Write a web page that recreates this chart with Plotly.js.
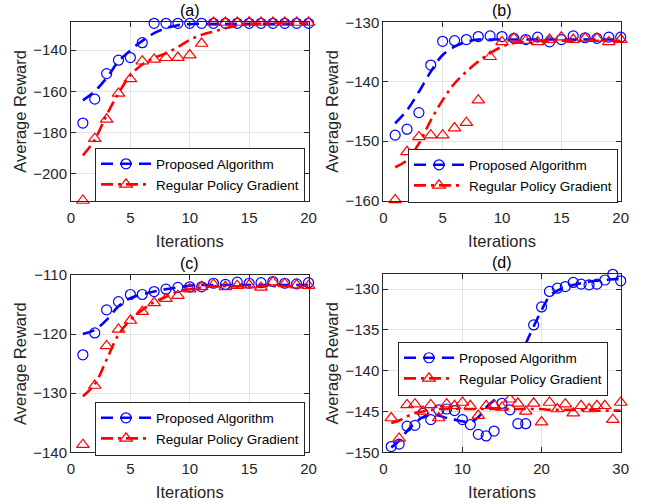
<!DOCTYPE html>
<html>
<head>
<meta charset="utf-8">
<script src="https://cdn.plot.ly/plotly-3.0.1.min.js"></script>
<style>html,body{margin:0;padding:0;background:#fff;}#chart{width:646px;height:504px;}</style>
</head>
<body>
<div id="chart"></div>
<script>
// ---------- data ----------
const iters20 = [1,2,3,4,5,6,7,8,9,10,11,12,13,14,15,16,17,18,19,20];
const iters30 = [1,2,3,4,5,6,7,8,9,10,11,12,13,14,15,16,17,18,19,20,21,22,23,24,25,26,27,28,29,30];

const seriesNames = ["Proposed Algorithm", "Regular Policy Gradient"];
const panelTitles = ["(a)", "(b)", "(c)", "(d)"];
const xTitle = "Iterations";
const yTitle = "Average Reward";

// (a)
const aProposed    = [-175.4,-163.8,-151.4,-144.9,-143.6,-136.4,-127.0,-127.0,-127.0,-127.0,-127.0,-127.0,-127.0,-127.0,-127.0,-127.0,-127.0,-127.0,-127.0,-127.0];
const aRegular     = [-213.0,-183.0,-173.6,-161.0,-154.0,-145.4,-144.5,-143.7,-143.6,-142.4,-136.8,-126.6,-126.6,-126.6,-126.5,-126.6,-126.6,-126.6,-126.6,-126.6];
const aProposedFit = [-164.4,-160.0,-153.5,-145.5,-140.1,-135.5,-131.8,-129.4,-127.9,-127.4,-127.2,-127.2,-127.2,-127.2,-127.2,-127.2,-127.2,-127.2,-127.2,-127.2];
const aRegularFit  = [-191.1,-183.5,-171.5,-161.0,-152.2,-147.0,-143.8,-141.5,-138.5,-135.0,-132.6,-131.0,-129.4,-128.2,-127.4,-127.0,-126.8,-126.8,-126.8,-126.8];

// (b)
const bProposed    = [-149.0,-148.0,-145.2,-137.2,-133.2,-133.1,-132.9,-132.4,-132.3,-132.4,-132.7,-132.9,-132.5,-133.3,-132.9,-132.3,-132.6,-132.7,-132.5,-132.5];
const bRegular     = [-159.9,-151.8,-149.3,-149.0,-149.0,-147.8,-146.9,-143.1,-135.8,-133.3,-132.7,-133.1,-133.3,-132.9,-132.5,-132.9,-132.7,-132.7,-133.3,-132.9];
const bProposedFit = [-147.0,-144.8,-141.7,-138.3,-135.5,-134.1,-133.3,-132.9,-132.9,-132.9,-132.9,-132.9,-132.9,-132.9,-132.9,-132.9,-132.9,-132.9,-132.9,-132.9];
const bRegularFit  = [-154.4,-153.2,-150.4,-146.5,-143.1,-140.3,-138.3,-136.6,-135.2,-134.1,-133.5,-133.3,-133.1,-133.1,-133.1,-133.1,-133.1,-133.1,-133.1,-133.1];

// (c)
const cProposed    = [-123.5,-119.8,-115.9,-114.5,-113.3,-113.3,-112.8,-112.4,-112.1,-112.0,-112.0,-111.4,-111.6,-111.2,-111.4,-111.3,-111.1,-111.4,-111.5,-111.3];
const cRegular     = [-138.7,-128.7,-122.0,-119.2,-117.7,-116.2,-114.7,-114.0,-113.5,-112.4,-112.0,-111.6,-112.0,-111.8,-111.7,-112.1,-111.2,-111.5,-111.7,-111.8];
const cProposedFit = [-120.0,-119.3,-117.6,-115.3,-113.9,-113.3,-112.8,-112.4,-112.1,-111.8,-111.7,-111.7,-111.7,-111.7,-111.7,-111.7,-111.7,-111.7,-111.7,-111.7];
const cRegularFit  = [-130.5,-128.5,-124.3,-120.1,-117.6,-115.9,-114.6,-113.7,-112.8,-112.4,-112.1,-111.9,-111.9,-111.9,-111.9,-111.9,-111.9,-111.9,-111.9,-111.9];

// (d)
const dProposed    = [-149.3,-149.0,-146.8,-146.7,-145.2,-146.0,-144.8,-144.7,-144.9,-146.0,-146.6,-147.8,-148.0,-147.4,-144.0,-144.8,-146.5,-146.5,-134.4,-132.2,-130.3,-129.9,-129.7,-129.2,-129.4,-129.5,-129.4,-128.9,-128.2,-129.0];
const dRegular     = [-145.8,-148.3,-144.2,-144.1,-145.0,-144.2,-145.8,-144.1,-144.3,-143.9,-144.3,-145.5,-144.3,-144.2,-144.5,-143.5,-144.0,-145.0,-144.0,-146.3,-143.9,-144.7,-144.1,-145.2,-144.3,-144.7,-144.3,-144.3,-146.0,-143.9];
const dProposedFit = [-149.4,-148.6,-147.4,-146.4,-145.7,-145.4,-145.5,-145.8,-146.0,-146.2,-146.3,-145.7,-144.5,-143.6,-142.3,-140.8,-138.8,-136.7,-134.6,-132.6,-130.9,-130.2,-129.8,-129.5,-129.3,-129.1,-129.0,-128.9,-128.8,-128.8];
const dRegularFit  = [-146.4,-146.1,-145.6,-145.2,-145.0,-144.8,-144.7,-144.7,-144.7,-144.7,-144.7,-144.7,-144.7,-144.7,-144.7,-144.7,-144.7,-144.7,-144.7,-144.7,-144.8,-144.8,-144.8,-144.8,-144.8,-144.8,-144.9,-144.9,-144.9,-144.9];

// ---------- styles ----------
const BLUE = "#0000ff", RED = "#ff0000";
const FONT = "Liberation Sans, Arial, Helvetica, sans-serif";
const W = 646, H = 504;

const panels = [
  {x: iters20, p: aProposed, r: aRegular, pf: aProposedFit, rf: aRegularFit, ax: "", xr: [0,20], xd: 5, yr: [-213,-126.5], yd: 20,
   dom: {l:71, r:308.5, t:22.3, b:200.5}, leg: {l:95, t:147.5}},
  {x: iters20, p: bProposed, r: bRegular, pf: bProposedFit, rf: bRegularFit, ax: "2", xr: [0,20], xd: 5, yr: [-160,-130], yd: 10,
   dom: {l:383.3, r:620.7, t:22.3, b:200.5}, leg: {l:408, t:148.5}},
  {x: iters20, p: cProposed, r: cRegular, pf: cProposedFit, rf: cRegularFit, ax: "3", xr: [0,20], xd: 5, yr: [-140,-110], yd: 10,
   dom: {l:71, r:308.5, t:275, b:452.3}, leg: {l:95, t:401.5}},
  {x: iters30, p: dProposed, r: dRegular, pf: dProposedFit, rf: dRegularFit, ax: "4", xr: [0,30], xd: 10, yr: [-150,-128.2], yd: 5,
   dom: {l:383.3, r:620.7, t:274.3, b:452.3}, leg: {l:398, t:341.5}}
];

const data = [];
const layout = {
  width: W, height: H,
  margin: {l:0, r:0, t:0, b:0},
  paper_bgcolor: "#fff", plot_bgcolor: "#fff",
  font: {family: FONT, size: 15, color: "#262626"},
  showlegend: true,
  annotations: []
};

panels.forEach((P, i) => {
  const xa = "x" + P.ax, ya = "y" + P.ax;
  const legName = "legend" + (i === 0 ? "" : (i + 1));
  const propLine = {color: BLUE, width: 2.6, dash: "12px,7px"};
  const regLine = {color: RED, width: 2.6, dash: "12px,5px,3px,5px"};
  const propMarker = {symbol: "circle-open", size: 10, color: BLUE, line: {color: BLUE, width: 1.2}};
  const regMarker = {symbol: "triangle-up-open", size: 11, color: RED, line: {color: RED, width: 1.2}};

  data.push({x: P.x, y: P.p, xaxis: xa, yaxis: ya, mode: "markers", marker: propMarker, showlegend: false, hoverinfo: "skip", cliponaxis: false});
  data.push({x: P.x, y: P.pf, xaxis: xa, yaxis: ya, mode: "lines", line: Object.assign({shape: "spline"}, propLine), showlegend: false, hoverinfo: "skip"});
  data.push({x: P.x, y: P.r, xaxis: xa, yaxis: ya, mode: "markers", marker: regMarker, showlegend: false, hoverinfo: "skip", cliponaxis: false});
  data.push({x: P.x, y: P.rf, xaxis: xa, yaxis: ya, mode: "lines", line: Object.assign({shape: "spline"}, regLine), showlegend: false, hoverinfo: "skip"});
  // legend entries (a single missing point: legend sample only)
  data.push({x: [null], y: [null], xaxis: xa, yaxis: ya, mode: "lines+markers", name: seriesNames[0], line: propLine, marker: propMarker, legend: legName});
  data.push({x: [null], y: [null], xaxis: xa, yaxis: ya, mode: "lines+markers", name: seriesNames[1], line: regLine, marker: regMarker, legend: legName});

  const axCommon = {
    showline: true, linecolor: "#262626", linewidth: 1, mirror: "allticks",
    ticks: "inside", ticklen: 5, tickwidth: 1, tickcolor: "#262626",
    showgrid: true, gridcolor: "#e3e3e3", gridwidth: 1, zeroline: false,
    tickfont: {family: FONT, size: 15, color: "#262626"}
  };
  layout["xaxis" + P.ax] = Object.assign({}, axCommon, {
    domain: [P.dom.l / W, P.dom.r / W], range: P.xr, dtick: P.xd, tick0: 0,
    ticklabelstandoff: 3,
    anchor: ya, title: {text: xTitle, font: {family: FONT, size: 16.5, color: "#262626"}, standoff: 10}
  });
  layout["yaxis" + P.ax] = Object.assign({}, axCommon, {
    domain: [1 - P.dom.b / H, 1 - P.dom.t / H], range: P.yr, dtick: P.yd, tick0: 0,
    anchor: xa, title: {text: yTitle, font: {family: FONT, size: 16.5, color: "#262626"}, standoff: 2}
  });
  layout[legName] = {
    x: P.leg.l / W, y: 1 - P.leg.t / H, xanchor: "left", yanchor: "top",
    xref: "paper", yref: "paper",
    bgcolor: "#ffffff", bordercolor: "#262626", borderwidth: 1,
    font: {family: FONT, size: 13.5, color: "#000"},
    itemwidth: 50, tracegroupgap: 0
  };
  layout.annotations.push({
    text: panelTitles[i], xref: xa + " domain", yref: ya + " domain", x: 0.5, y: 1,
    xanchor: "center", yanchor: "bottom", yshift: 1, showarrow: false,
    font: {family: FONT, size: 16, color: "#000"}
  });
});

Plotly.newPlot("chart", data, layout, {staticPlot: true, displayModeBar: false});
</script>
</body>
</html>
